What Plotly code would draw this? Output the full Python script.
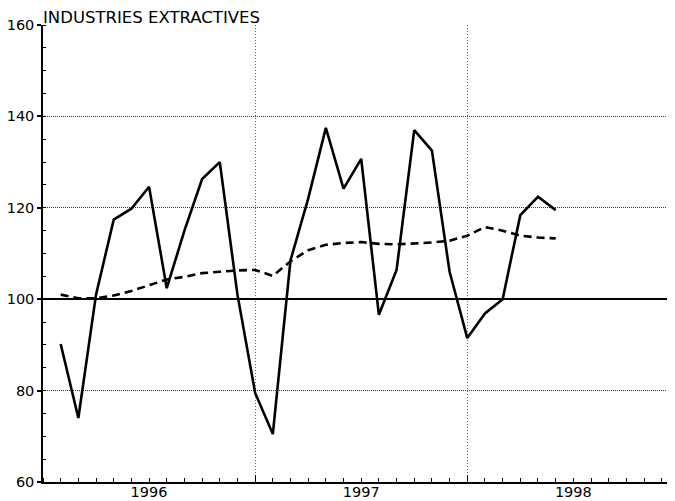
import plotly.graph_objects as go

# Monthly index (month 0 = start of 1996); first observation at month 1
months = list(range(1, 30))
production = [90.2, 74.0, 101.0, 117.4, 119.8, 124.6, 102.4, 115.0, 126.3, 130.0,
              101.0, 79.5, 70.5, 108.5, 122.0, 137.5, 124.2, 130.7, 96.6, 106.4,
              137.0, 132.5, 106.0, 91.5, 96.9, 100.0, 118.4, 122.4, 119.5]
trend = [101.0, 100.2, 100.2, 100.8, 101.8, 103.1, 104.3, 104.9, 105.7, 106.0,
         106.3, 106.4, 105.1, 108.3, 110.7, 111.9, 112.3, 112.5, 112.1, 112.0,
         112.2, 112.4, 112.8, 113.9, 115.8, 115.0, 113.9, 113.5, 113.3]

year_pos = [6, 18, 30]
year_labels = ["1996", "1997", "1998"]
year_bounds = [0, 12, 24, 36]
y_ticks = [60, 80, 100, 120, 140, 160]
ref_level = [100]
x_range = [0, 35.75]
y_range = [60, 160]

font = dict(family="DejaVu Sans", size=14.5, color="black")
title_font = dict(family="DejaVu Sans", size=16.5, color="black")

fig = go.Figure()
fig.add_trace(go.Scatter(x=months, y=production, mode="lines",
                         line=dict(color="black", width=2.6), xaxis="x", yaxis="y",
                         showlegend=False))
fig.add_trace(go.Scatter(x=months, y=trend, mode="lines",
                         line=dict(color="black", width=2.6, dash="8px,5px"),
                         xaxis="x", yaxis="y", showlegend=False))

fig.update_layout(
    width=667, height=493,
    margin=dict(l=35, r=0, t=17, b=19),
    paper_bgcolor="white", plot_bgcolor="white",
    font=font,
    xaxis=dict(range=x_range, tickmode="array", tickvals=year_pos, ticktext=year_labels,
               ticks="", showgrid=False, zeroline=False,
               showline=True, linecolor="black", linewidth=1.5,
               tickfont=font, ticklabelstandoff=-4,
               minor=dict(tickmode="linear", tick0=0, dtick=1, ticks="inside",
                          ticklen=4, tickcolor="black", tickwidth=1, showgrid=False)),
    xaxis2=dict(range=x_range, overlaying="x", matches="x", tickmode="array",
                tickvals=year_bounds, showticklabels=False, ticks="inside",
                ticklen=7, tickcolor="black", showgrid=True, gridcolor="#666",
                griddash="1px,2px", gridwidth=1, zeroline=False, showline=False),
    yaxis=dict(range=y_range, tickmode="array", tickvals=y_ticks, ticks="outside",
               ticklen=4, tickcolor="black", tickwidth=1.5,
               showgrid=True, gridcolor="#333", griddash="1px,1px", gridwidth=1,
               zeroline=False, showline=True, linecolor="black", linewidth=1.5,
               tickfont=font, ticklabelstandoff=0,
               minor=dict(tickmode="linear", tick0=60, dtick=5, ticks="inside",
                          ticklen=3, tickcolor="black", tickwidth=1, showgrid=False)),
    yaxis2=dict(range=y_range, overlaying="y", matches="y", tickmode="array",
                tickvals=ref_level, showticklabels=False, ticks="",
                showgrid=True, gridcolor="black", gridwidth=1.5,
                zeroline=False, showline=False),
    annotations=[dict(text="INDUSTRIES EXTRACTIVES", xref="paper", yref="paper",
                      x=0.1717, y=1, xanchor="center", yanchor="bottom",
                      showarrow=False, font=title_font, yshift=-4)],
)

# dummy trace so the overlay axes are drawn
fig.add_trace(go.Scatter(x=[None], y=[None], xaxis="x2", yaxis="y2", showlegend=False,
                         hoverinfo="skip"))

fig.write_html("out.html")
